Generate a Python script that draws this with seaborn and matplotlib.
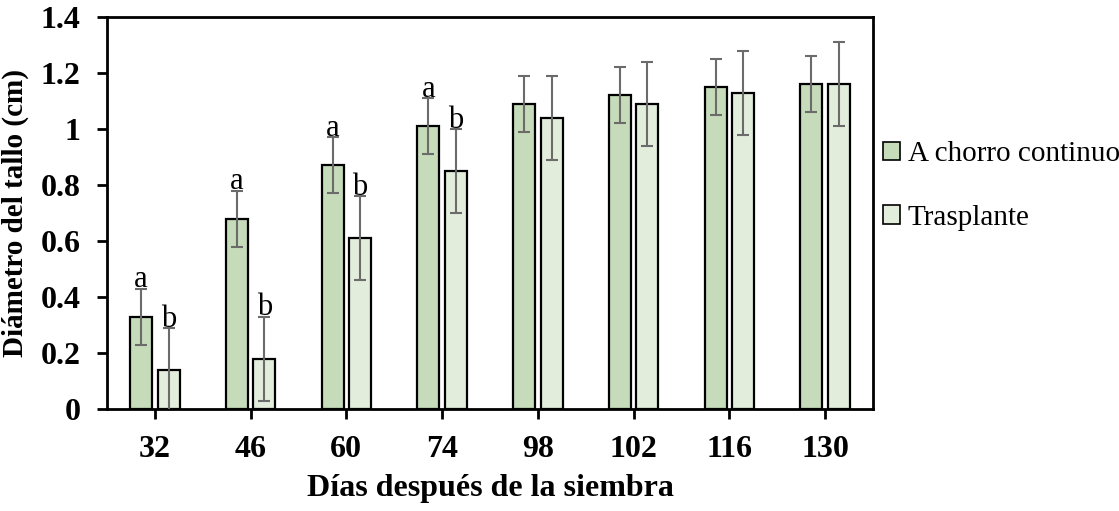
import matplotlib
matplotlib.use("Agg")
import matplotlib.pyplot as plt
import seaborn as sns
import pandas as pd
from matplotlib.ticker import FuncFormatter

# ---- data ----
dias = ["32", "46", "60", "74", "98", "102", "116", "130"]
chorro = [0.33, 0.68, 0.87, 1.01, 1.09, 1.12, 1.15, 1.16]
chorro_err = [0.10, 0.10, 0.10, 0.10, 0.10, 0.10, 0.10, 0.10]
trasplante = [0.14, 0.18, 0.61, 0.85, 1.04, 1.09, 1.13, 1.16]
trasplante_err = [0.15, 0.15, 0.15, 0.15, 0.15, 0.15, 0.15, 0.15]
letras_chorro = ["a", "a", "a", "a", "", "", "", ""]
letras_trasplante = ["b", "b", "b", "b", "", "", "", ""]
series = ["A chorro continuo", "Trasplante"]

df = pd.DataFrame({
    "dias": dias * 2,
    "diam": chorro + trasplante,
    "trat": [series[0]] * len(dias) + [series[1]] * len(dias),
})

sns.set_style("white")
plt.rcParams["font.family"] = ["Liberation Serif", "DejaVu Sans"]
plt.rcParams.update({"text.color": "black", "axes.labelcolor": "black",
                     "xtick.color": "black", "ytick.color": "black"})

fig = plt.figure(figsize=(11.19, 5.11), dpi=100)
ax = fig.add_axes([0.0956, 0.1996, 0.6846, 0.7671])

sns.barplot(data=df, x="dias", y="diam", hue="trat", order=dias, hue_order=series,
            palette=["#c5e0b4", "#e2f0d9"], edgecolor="black", linewidth=1.6,
            width=0.575, gap=0.2, errorbar=None, ax=ax)

for cont, vals, errs, letters in zip(ax.containers[:2], [chorro, trasplante],
                                     [chorro_err, trasplante_err],
                                     [letras_chorro, letras_trasplante]):
    xs = [p.get_x() + p.get_width() / 2 for p in cont.patches]
    ax.errorbar(xs, vals, yerr=errs, fmt="none", ecolor="#6b6b6b", elinewidth=1.5,
                capsize=4.3, capthick=1.5, zorder=5)
    for x, v, e, t in zip(xs, vals, errs, letters):
        if t:
            ax.text(x, v + e + 0.004, t, ha="center", va="baseline", fontsize=22)

ax.set_xlim(-0.5, len(dias) - 0.5)
ax.set_ylim(0, 1.4)
ax.set_yticks([0, 0.2, 0.4, 0.6, 0.8, 1.0, 1.2, 1.4])
ax.yaxis.set_major_formatter(FuncFormatter(lambda v, p: f"{v:g}"))
ax.set_xlabel("Días después de la siembra", fontsize=23, fontweight="bold", labelpad=7)
ax.set_ylabel("Diámetro del tallo (cm)", fontsize=21, fontweight="bold", labelpad=8)
for lab in ax.get_xticklabels() + ax.get_yticklabels():
    lab.set_fontweight("bold")
    lab.set_fontsize(23)

for s in ax.spines.values():
    s.set_visible(True)
    s.set_linewidth(2)
    s.set_color("black")
ax.tick_params(axis="both", direction="out", length=7, width=2, color="black",
               bottom=True, left=True)
ax.tick_params(axis="x", pad=12)
ax.tick_params(axis="y", pad=12)

leg = ax.legend(loc="center left", bbox_to_anchor=(0.789, 0.636),
                bbox_transform=fig.transFigure, frameon=False, fontsize=21,
                handlelength=0.6, handleheight=0.6, handletextpad=0.25,
                labelspacing=1.3, borderaxespad=0, borderpad=0)
for h in leg.legend_handles:
    h.set_edgecolor("black")
    h.set_linewidth(1.2)

fig.savefig("out.png", dpi=100)
